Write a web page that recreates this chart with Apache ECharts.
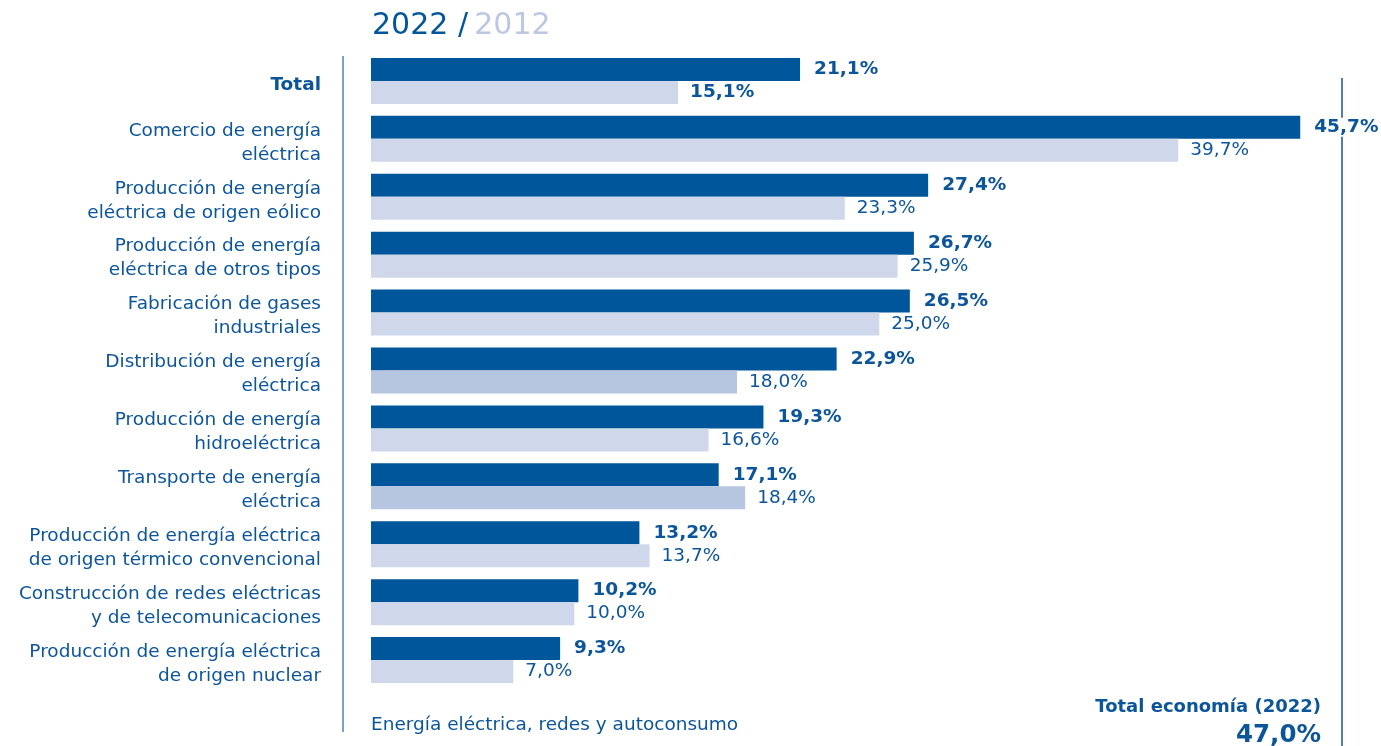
<!DOCTYPE html>
<html>
<head>
<meta charset="utf-8">
<script src="https://cdn.jsdelivr.net/npm/echarts@6/dist/echarts.min.js"></script>
<style>
html,body{margin:0;padding:0;background:#fff;}
#chart{width:1381px;height:746px;}
</style>
</head>
<body>
<div id="chart"></div>
<script>
// ---- Data ----
const categories = [
  'Total',
  'Comercio de energía\neléctrica',
  'Producción de energía\neléctrica de origen eólico',
  'Producción de energía\neléctrica de otros tipos',
  'Fabricación de gases\nindustriales',
  'Distribución de energía\neléctrica',
  'Producción de energía\nhidroeléctrica',
  'Transporte de energía\neléctrica',
  'Producción de energía eléctrica\nde origen térmico convencional',
  'Construcción de redes eléctricas\ny de telecomunicaciones',
  'Producción de energía eléctrica\nde origen nuclear'
];
const values2022 = [21.1, 45.7, 27.4, 26.7, 26.5, 22.9, 19.3, 17.1, 13.2, 10.2, 9.3];
const values2012 = [15.1, 39.7, 23.3, 25.9, 25.0, 18.0, 16.6, 18.4, 13.7, 10.0, 7.0];
const highlighted2012 = ['Distribución de energía\neléctrica', 'Transporte de energía\neléctrica'];
const seriesNames = ['2022', '2012'];
const totalEconomiaLabel = 'Total economía (2022)';
const totalEconomiaValue = 47.0;
const footerText = 'Energía eléctrica, redes y autoconsumo';

// ---- Styles ----
const FONT = '"DejaVu Sans", sans-serif';
const DARK = '#00569a';
const LIGHT = '#cfd7ea';
const LIGHT_HL = '#b7c6e0';
const TEXT = '#0b559a';
const fmt = v => v.toFixed(1).replace('.', ',') + '%';

const chart = echarts.init(document.getElementById('chart'));
chart.setOption({
  animation: false,
  textStyle: { fontFamily: FONT },
  title: {
    text: '{a|2022 /} {b|2012}',
    left: 367, top: 6,
    textStyle: {
      rich: {
        a: { fontFamily: FONT, fontSize: 30, fontWeight: 'normal', color: DARK },
        b: { fontFamily: FONT, fontSize: 30, fontWeight: 'normal', color: '#bac8e1' }
      }
    }
  },
  grid: { left: 371, right: 34, top: 52, bottom: 57 },
  xAxis: { type: 'value', min: 0, max: 48, show: false },
  yAxis: {
    type: 'category', data: categories, inverse: true,
    axisLine: { show: false }, axisTick: { show: false },
    axisLabel: {
      margin: 50, fontSize: 18.5, color: TEXT, lineHeight: 24, align: 'right',
      padding: [8, 0, 0, 0],
      formatter: v => v === 'Total' ? '{b|' + v + '}' : v,
      rich: { b: { fontWeight: 'bold', fontSize: 18.5, color: TEXT, fontFamily: FONT } }
    }
  },
  series: [
    {
      name: seriesNames[0], type: 'bar', data: values2022,
      barWidth: 23, barGap: '0%',
      itemStyle: { color: DARK },
      label: {
        show: true, position: 'right', distance: 12,
        formatter: p => fmt(p.value),
        fontFamily: FONT, fontSize: 18.5, fontWeight: 'bold', color: TEXT,
        backgroundColor: '#fff', padding: [0, 2]
      },
      z: 3
    },
    {
      name: seriesNames[1], type: 'bar',
      data: values2012.map((v, i) => ({
        value: v,
        itemStyle: { color: highlighted2012.includes(categories[i]) ? LIGHT_HL : LIGHT },
        label: { fontWeight: categories[i] === 'Total' ? 'bold' : 'normal' }
      })),
      barWidth: 23,
      label: {
        show: true, position: 'right', distance: 12,
        formatter: p => fmt(p.value),
        fontFamily: FONT, fontSize: 18.5, color: TEXT,
        padding: [8, 0, 0, 0]
      },
      z: 3
    }
  ],
  graphic: [
    { type: 'line', z: 0, shape: { x1: 343, y1: 56, x2: 343, y2: 732 }, style: { stroke: '#4f7fb2', lineWidth: 1.5 } },
    { type: 'line', z: 0, shape: { x1: 1342, y1: 78, x2: 1342, y2: 746 }, style: { stroke: '#4f7fb2', lineWidth: 2 } },
    { type: 'text', left: 371, top: 716, style: { text: footerText, font: '18.5px ' + FONT, fill: TEXT } },
    { type: 'text', right: 60, top: 698, style: { text: totalEconomiaLabel, font: 'bold 18px ' + FONT, fill: TEXT, align: 'right' } },
    { type: 'text', right: 60, top: 723, style: { text: fmt(totalEconomiaValue), font: 'bold 24.5px ' + FONT, fill: TEXT, align: 'right' } }
  ]
});
</script>
</body>
</html>
